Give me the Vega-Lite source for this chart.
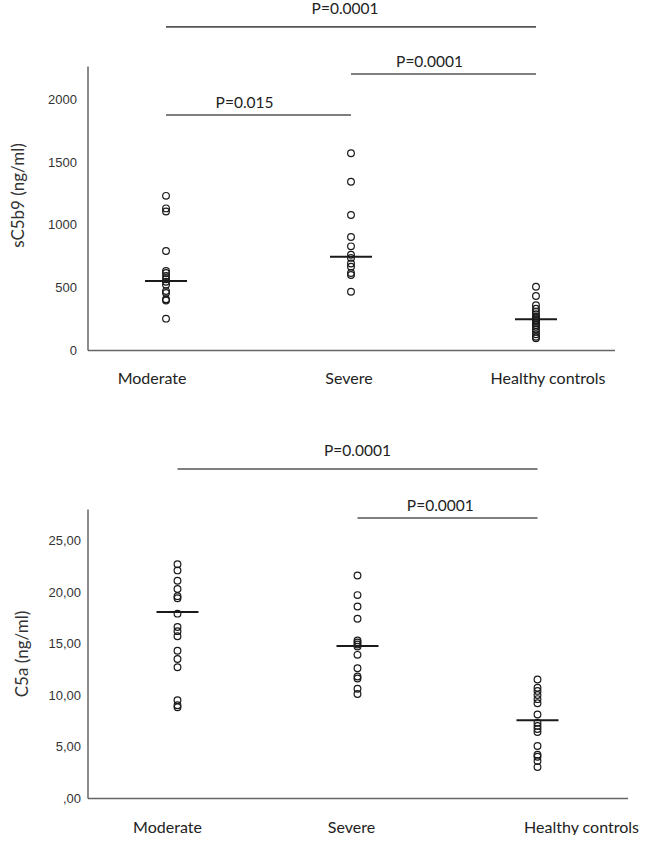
{
  "$schema": "https://vega.github.io/schema/vega-lite/v6.json",
  "background": "white",
  "autosize": {"type": "pad"},
  "padding": {"left": 8.5, "top": 1, "right": 0, "bottom": 0},
  "config": {
    "view": {"stroke": null},
    "axis": {"domainCap": "butt"}
  },
  "datasets": {
    "top_points": [
      {"group": "Moderate", "value": 1230}, {"group": "Moderate", "value": 1130}, {"group": "Moderate", "value": 1105},
      {"group": "Moderate", "value": 790}, {"group": "Moderate", "value": 630}, {"group": "Moderate", "value": 615},
      {"group": "Moderate", "value": 590}, {"group": "Moderate", "value": 565}, {"group": "Moderate", "value": 545},
      {"group": "Moderate", "value": 520}, {"group": "Moderate", "value": 470}, {"group": "Moderate", "value": 455},
      {"group": "Moderate", "value": 405}, {"group": "Moderate", "value": 395}, {"group": "Moderate", "value": 250},
      {"group": "Severe", "value": 1570}, {"group": "Severe", "value": 1343}, {"group": "Severe", "value": 1077},
      {"group": "Severe", "value": 902}, {"group": "Severe", "value": 827}, {"group": "Severe", "value": 760},
      {"group": "Severe", "value": 735}, {"group": "Severe", "value": 690}, {"group": "Severe", "value": 665},
      {"group": "Severe", "value": 615}, {"group": "Severe", "value": 598}, {"group": "Severe", "value": 465},
      {"group": "Healthy controls", "value": 505}, {"group": "Healthy controls", "value": 431}, {"group": "Healthy controls", "value": 357},
      {"group": "Healthy controls", "value": 330}, {"group": "Healthy controls", "value": 305}, {"group": "Healthy controls", "value": 285},
      {"group": "Healthy controls", "value": 265}, {"group": "Healthy controls", "value": 253}, {"group": "Healthy controls", "value": 240},
      {"group": "Healthy controls", "value": 231}, {"group": "Healthy controls", "value": 215}, {"group": "Healthy controls", "value": 200},
      {"group": "Healthy controls", "value": 185}, {"group": "Healthy controls", "value": 165}, {"group": "Healthy controls", "value": 145},
      {"group": "Healthy controls", "value": 125}, {"group": "Healthy controls", "value": 105}, {"group": "Healthy controls", "value": 93}
    ],
    "top_median": [
      {"group": "Moderate", "value": 550},
      {"group": "Severe", "value": 745},
      {"group": "Healthy controls", "value": 245}
    ],
    "top_sig": [
      {"kind": "overall", "from": "Moderate", "to": "Healthy controls", "y": 2578, "label": "P=0.0001"},
      {"kind": "pair", "from": "Severe", "to": "Healthy controls", "y": 2202, "label": "P=0.0001"},
      {"kind": "pair", "from": "Moderate", "to": "Severe", "y": 1875, "label": "P=0.015"}
    ],
    "bottom_points": [
      {"group": "Moderate", "value": 22.7}, {"group": "Moderate", "value": 22.1}, {"group": "Moderate", "value": 21.1},
      {"group": "Moderate", "value": 20.3}, {"group": "Moderate", "value": 19.6}, {"group": "Moderate", "value": 19.4},
      {"group": "Moderate", "value": 17.9}, {"group": "Moderate", "value": 16.6}, {"group": "Moderate", "value": 16.2},
      {"group": "Moderate", "value": 15.7}, {"group": "Moderate", "value": 14.3}, {"group": "Moderate", "value": 13.5},
      {"group": "Moderate", "value": 12.7}, {"group": "Moderate", "value": 9.5}, {"group": "Moderate", "value": 9.0},
      {"group": "Moderate", "value": 8.8},
      {"group": "Severe", "value": 21.6}, {"group": "Severe", "value": 19.7}, {"group": "Severe", "value": 18.6},
      {"group": "Severe", "value": 17.4}, {"group": "Severe", "value": 15.3}, {"group": "Severe", "value": 15.1},
      {"group": "Severe", "value": 14.9}, {"group": "Severe", "value": 14.7}, {"group": "Severe", "value": 13.9},
      {"group": "Severe", "value": 12.6}, {"group": "Severe", "value": 11.8}, {"group": "Severe", "value": 11.6},
      {"group": "Severe", "value": 10.6}, {"group": "Severe", "value": 10.1},
      {"group": "Healthy controls", "value": 11.5}, {"group": "Healthy controls", "value": 10.7}, {"group": "Healthy controls", "value": 10.4},
      {"group": "Healthy controls", "value": 10.0}, {"group": "Healthy controls", "value": 9.6}, {"group": "Healthy controls", "value": 9.2},
      {"group": "Healthy controls", "value": 8.1}, {"group": "Healthy controls", "value": 7.3}, {"group": "Healthy controls", "value": 7.0},
      {"group": "Healthy controls", "value": 6.7}, {"group": "Healthy controls", "value": 6.4}, {"group": "Healthy controls", "value": 5.05},
      {"group": "Healthy controls", "value": 4.2}, {"group": "Healthy controls", "value": 4.0}, {"group": "Healthy controls", "value": 3.6},
      {"group": "Healthy controls", "value": 3.0}
    ],
    "bottom_median": [
      {"group": "Moderate", "value": 18.06},
      {"group": "Severe", "value": 14.76},
      {"group": "Healthy controls", "value": 7.54}
    ],
    "bottom_sig": [
      {"kind": "overall", "from": "Moderate", "to": "Healthy controls", "y": 31.94, "label": "P=0.0001"},
      {"kind": "pair", "from": "Severe", "to": "Healthy controls", "y": 27.18, "label": "P=0.0001"}
    ]
  },
  "spacing": 58,
  "vconcat": [
    {
      "width": 527,
      "height": 284,
      "layer": [
        {
          "data": {"name": "top_points"},
          "mark": {"type": "point", "shape": "circle", "filled": false, "size": 45, "stroke": "#1a1a1a", "strokeWidth": 1.2, "opacity": 1},
          "encoding": {
            "x": {
              "field": "group", "type": "nominal",
              "scale": {"type": "band", "domain": ["Moderate", "Severe", "Healthy controls"], "paddingInner": 0.151, "paddingOuter": 0},
              "axis": {
                "title": null, "ticks": false, "tickSize": 0, "domainColor": "#666", "domainWidth": 1.5,
                "labelFont": "Lato", "labelFontSize": 16, "labelColor": "#222", "labelPadding": 20, "labelAngle": 0,
                "labelOffset": {"condition": [{"test": "datum.value === 'Moderate'", "value": -14}, {"test": "datum.value === 'Severe'", "value": -2}, {"test": "datum.value === 'Healthy controls'", "value": 12}], "value": 0}
              }
            },
            "y": {
              "field": "value", "type": "quantitative",
              "scale": {"domain": [0, 2266], "nice": false, "zero": true},
              "axis": {
                "values": [0, 500, 1000, 1500, 2000], "format": "d", "ticks": false, "tickSize": 0, "grid": false,
                "title": "sC5b9 (ng/ml)", "titleFont": "Lato", "titleFontSize": 17, "titleFontWeight": "normal", "titleColor": "#333",
                "titlePadding": 20.5, "titleY": 129,
                "labelFont": "Liberation Sans", "labelFontSize": 13, "labelColor": "#333", "labelPadding": 11,
                "domainColor": "#666", "domainWidth": 1.5
              }
            }
          }
        },
        {
          "data": {"name": "top_median"},
          "mark": {"type": "tick", "size": 42, "thickness": 2, "color": "#1a1a1a", "opacity": 1},
          "encoding": {
            "x": {"field": "group", "type": "nominal"},
            "y": {"field": "value", "type": "quantitative"}
          }
        },
        {
          "data": {"name": "top_sig"},
          "mark": {"type": "rule", "color": "#555", "strokeWidth": 1.6},
          "encoding": {
            "x": {"field": "from", "type": "nominal"},
            "x2": {"field": "to"},
            "y": {"field": "y", "type": "quantitative"}
          }
        },
        {
          "data": {"name": "top_sig"},
          "transform": [{"filter": "datum.kind === 'overall'"}],
          "mark": {"type": "text", "font": "Lato", "fontSize": 15.5, "color": "#222", "baseline": "middle", "align": "center", "dy": -18},
          "encoding": {
            "x": {"field": "from", "type": "nominal", "bandPosition": 1.64},
            "y": {"field": "y", "type": "quantitative"},
            "text": {"field": "label"}
          }
        },
        {
          "data": {"name": "top_sig"},
          "transform": [{"filter": "datum.kind === 'pair'"}],
          "mark": {"type": "text", "font": "Lato", "fontSize": 15.5, "color": "#222", "baseline": "middle", "align": "center", "dy": -12},
          "encoding": {
            "x": {"field": "from", "type": "nominal", "bandPosition": 1.0},
            "y": {"field": "y", "type": "quantitative"},
            "text": {"field": "label"}
          }
        }
      ]
    },
    {
      "width": 540,
      "height": 289,
      "layer": [
        {
          "data": {"name": "bottom_points"},
          "mark": {"type": "point", "shape": "circle", "filled": false, "size": 45, "stroke": "#1a1a1a", "strokeWidth": 1.2, "opacity": 1},
          "encoding": {
            "x": {
              "field": "group", "type": "nominal",
              "scale": {"type": "band", "domain": ["Moderate", "Severe", "Healthy controls"], "paddingInner": 0, "paddingOuter": 0},
              "axis": {
                "title": null, "ticks": false, "tickSize": 0, "domainColor": "#666", "domainWidth": 1.5,
                "labelFont": "Lato", "labelFontSize": 16, "labelColor": "#222", "labelPadding": 21, "labelAngle": 0,
                "labelOffset": {"condition": [{"test": "datum.value === 'Moderate'", "value": -10}, {"test": "datum.value === 'Severe'", "value": -6}, {"test": "datum.value === 'Healthy controls'", "value": 44}], "value": 0}
              }
            },
            "y": {
              "field": "value", "type": "quantitative",
              "scale": {"domain": [0, 28.06], "nice": false, "zero": true},
              "axis": {
                "values": [0, 5, 10, 15, 20, 25], "ticks": false, "tickSize": 0, "grid": false,
                "labelExpr": "datum.value == 0 ? ',00' : replace(format(datum.value, '.2f'), '.', ',')",
                "title": "C5a (ng/ml)", "titleFont": "Lato", "titleFontSize": 17, "titleFontWeight": "normal", "titleColor": "#333",
                "titlePadding": 16,
                "labelFont": "Liberation Sans", "labelFontSize": 13, "labelColor": "#333", "labelPadding": 7,
                "domainColor": "#666", "domainWidth": 1.5
              }
            }
          }
        },
        {
          "data": {"name": "bottom_median"},
          "mark": {"type": "tick", "size": 42, "thickness": 2, "color": "#1a1a1a", "opacity": 1},
          "encoding": {
            "x": {"field": "group", "type": "nominal"},
            "y": {"field": "value", "type": "quantitative"}
          }
        },
        {
          "data": {"name": "bottom_sig"},
          "mark": {"type": "rule", "color": "#555", "strokeWidth": 1.6},
          "encoding": {
            "x": {"field": "from", "type": "nominal"},
            "x2": {"field": "to"},
            "y": {"field": "y", "type": "quantitative"}
          }
        },
        {
          "data": {"name": "bottom_sig"},
          "transform": [{"filter": "datum.kind === 'overall'"}],
          "mark": {"type": "text", "font": "Lato", "fontSize": 15.5, "color": "#222", "baseline": "middle", "align": "center", "dy": -18},
          "encoding": {
            "x": {"field": "from", "type": "nominal", "bandPosition": 1.5},
            "y": {"field": "y", "type": "quantitative"},
            "text": {"field": "label"}
          }
        },
        {
          "data": {"name": "bottom_sig"},
          "transform": [{"filter": "datum.kind === 'pair'"}],
          "mark": {"type": "text", "font": "Lato", "fontSize": 15.5, "color": "#222", "baseline": "middle", "align": "center", "dy": -12},
          "encoding": {
            "x": {"field": "from", "type": "nominal", "bandPosition": 0.96},
            "y": {"field": "y", "type": "quantitative"},
            "text": {"field": "label"}
          }
        }
      ]
    }
  ]
}
